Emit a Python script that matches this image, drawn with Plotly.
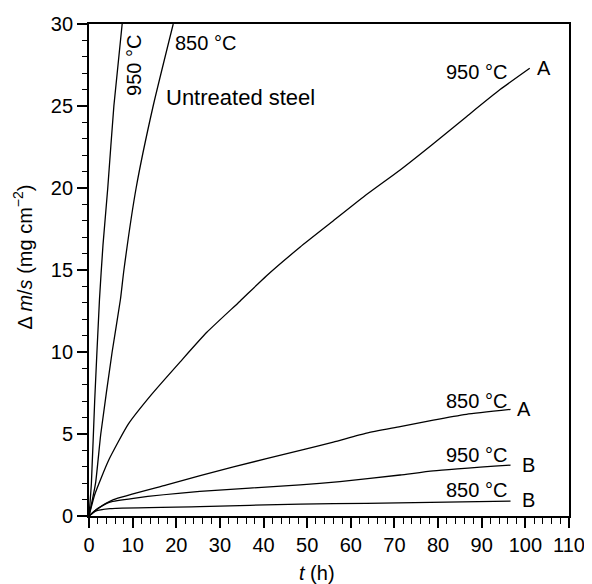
import plotly.graph_objects as go

# ---- data ----
t_untreated_950 = [0, 0.55, 1.3, 2.4, 3.2, 4.3, 5.7, 7.6]
m_untreated_950 = [0, 2.0, 7.0, 13.2, 16.5, 20.0, 25.0, 30.0]

t_untreated_850 = [0, 1.5, 2.7, 5.3, 7.2, 8.0, 10.8, 14.7, 19.3]
m_untreated_850 = [0, 2.0, 5.0, 10.0, 13.2, 15.0, 20.0, 25.0, 30.0]

t_950_A = [0, 1.3, 4.5, 9.0, 14.3, 20.9, 27.0, 34.6, 40.7, 48.4, 56.0, 63.6, 71.3, 78.9, 86.5, 94.2, 101.0]
m_950_A = [0, 1.3, 3.4, 5.6, 7.4, 9.4, 11.2, 13.1, 14.65, 16.4, 18.0, 19.6, 21.1, 22.7, 24.35, 26.0, 27.3]

t_850_A = [0, 2.0, 5.6, 17.8, 33.1, 48.4, 56.0, 63.6, 71.3, 78.9, 86.5, 96.6]
m_850_A = [0, 0.45, 1.0, 1.9, 3.0, 4.0, 4.5, 5.05, 5.45, 5.85, 6.2, 6.5]

t_950_B = [0, 2.0, 4.8, 10.2, 25.4, 48.4, 57.5, 71.3, 78.9, 96.6]
m_950_B = [0, 0.45, 0.85, 1.08, 1.5, 1.9, 2.1, 2.5, 2.75, 3.1]

t_850_B = [0, 1.5, 4.8, 25.4, 48.4, 63.6, 96.6]
m_850_B = [0, 0.3, 0.45, 0.57, 0.73, 0.77, 0.91]

x_ticks = list(range(0, 111, 10))
y_ticks = list(range(0, 31, 5))

FONT = "Liberation Sans, Arial, sans-serif"
FS = 20

fig = go.Figure()
for tx, my in [(t_untreated_950, m_untreated_950), (t_untreated_850, m_untreated_850),
               (t_950_A, m_950_A), (t_850_A, m_850_A), (t_950_B, m_950_B), (t_850_B, m_850_B)]:
    fig.add_trace(go.Scatter(x=tx, y=my, mode="lines",
                             line=dict(color="black", width=1.3, shape="spline", smoothing=0.5),
                             showlegend=False, hoverinfo="skip", cliponaxis=True))

def lab(x, y, text, angle=0, size=FS):
    fig.add_annotation(x=x, y=y, xref="x", yref="y", text=text, showarrow=False,
                       textangle=angle, font=dict(family=FONT, size=size, color="black"),
                       xanchor="center", yanchor="middle")

lab(10.3, 27.5, "950 °C", -90)
lab(26.8, 28.87, "850 °C")
lab(34.8, 25.5, "Untreated steel", size=22)
lab(88.7, 27.1, "950 °C")
lab(104.2, 27.3, "A")
lab(88.8, 7.04, "850 °C")
lab(99.8, 6.55, "A")
lab(88.8, 3.75, "950 °C")
lab(100.7, 3.11, "B")
lab(88.8, 1.59, "850 °C")
lab(100.7, 0.95, "B")

fig.add_annotation(x=-0.1387, y=0.5264, xref="paper", yref="paper",
                   text="Δ <i>m</i>/<i>s</i> (mg cm<sup>−2</sup>)", showarrow=False,
                   textangle=-90, font=dict(family=FONT, size=FS, color="black"),
                   xanchor="center", yanchor="middle")
fig.add_annotation(x=0.4745, y=-0.1159, xref="paper", yref="paper",
                   text="<i>t</i> (h)", showarrow=False,
                   font=dict(family=FONT, size=FS, color="black"),
                   xanchor="center", yanchor="middle")

fig.update_xaxes(range=[0, 110], tickvals=x_ticks, ticktext=[str(v) for v in x_ticks],
                 ticks="outside", ticklen=10, tickwidth=1.5, tickcolor="black",
                 minor=dict(dtick=2, ticks="outside", ticklen=6, tickwidth=1.2, tickcolor="black"),
                 showline=True, linecolor="black", linewidth=1.8, mirror=True,
                 showgrid=False, zeroline=False,
                 tickfont=dict(family=FONT, size=FS, color="black"))
fig.update_yaxes(range=[0, 30], tickvals=y_ticks, ticktext=[str(v) for v in y_ticks],
                 ticks="outside", ticklen=10, tickwidth=1.5, tickcolor="black",
                 minor=dict(dtick=1, ticks="outside", ticklen=5, tickwidth=1.2, tickcolor="black"),
                 showline=True, linecolor="black", linewidth=1.8, mirror=True,
                 showgrid=False, zeroline=False,
                 tickfont=dict(family=FONT, size=FS, color="black"))

# the page body adds an 8px margin, so the figure is 8px smaller and margins shifted
fig.update_layout(width=584, height=576, margin=dict(l=81, r=23, t=16, b=68, autoexpand=False),
                  plot_bgcolor="white", paper_bgcolor="white",
                  font=dict(family=FONT, size=FS, color="black"))

fig.write_html("out.html")
